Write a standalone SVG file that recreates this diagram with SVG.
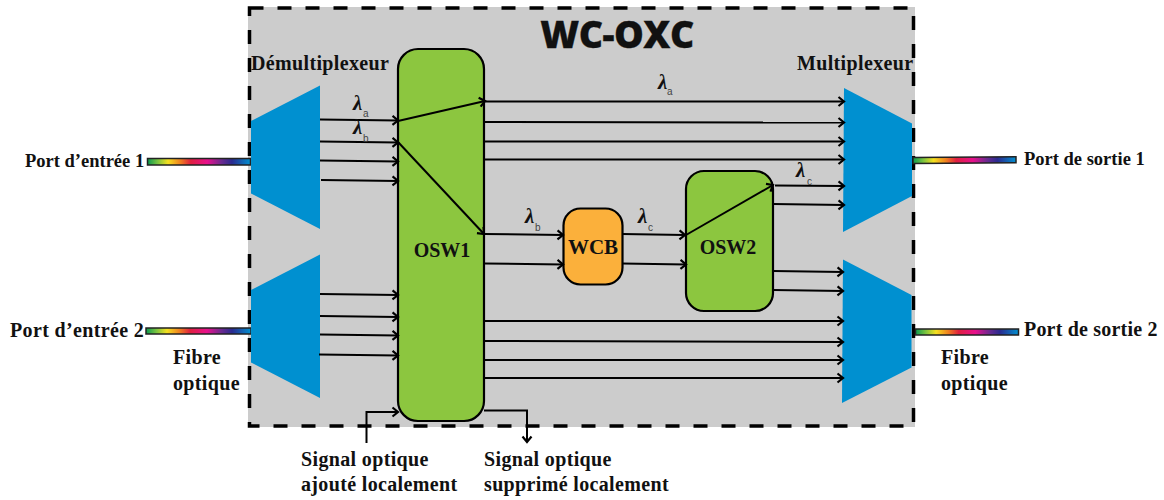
<svg xmlns="http://www.w3.org/2000/svg" width="1164" height="500" viewBox="0 0 1164 500">
<style>
text{font-family:"Liberation Serif","Times New Roman",serif;font-weight:700;fill:#111}
.l{font-size:20px;letter-spacing:.35px}
.p{font-size:18.500px}
.lam{font-size:21px;font-style:italic;font-family:"Liberation Serif",serif}
.sub{font-size:10px;font-weight:400;font-family:"Liberation Sans",sans-serif;fill:#444}
.w{fill:none;stroke:#000;stroke-width:2;marker-end:url(#a)}
.mux{fill:#0090d0}
.osw{fill:#8cc63f;stroke:#000;stroke-width:2.200}
.fib{stroke:#222;stroke-width:1.500}
</style>
<defs>
<marker id="a" markerUnits="userSpaceOnUse" markerWidth="9" markerHeight="12" refX="7" refY="6" orient="auto"><path d="M1.500 1.500L7 6L1.500 10.500" fill="none" stroke="#000" stroke-width="2.200"/></marker>
<linearGradient id="g"><stop offset="0" stop-color="#0a9a50"/><stop offset=".1" stop-color="#7cc440"/><stop offset=".2" stop-color="#f5e020"/><stop offset=".32" stop-color="#f08020"/><stop offset=".42" stop-color="#e02040"/><stop offset=".58" stop-color="#e8108c"/><stop offset=".72" stop-color="#6a2a90"/><stop offset=".82" stop-color="#2a2a90"/><stop offset="1" stop-color="#0090d0"/></linearGradient>
</defs>
<g id="oxc"><rect x="248" y="7" width="667" height="420" fill="#cccccc"/>
<rect x="249.500" y="8" width="664" height="418" fill="none" stroke="#000" stroke-width="3.500" stroke-dasharray="14 14"/>
<text x="617" y="47.500" text-anchor="middle" style="font-family:'Open Sans','Liberation Sans',sans-serif;font-size:37.500px;font-weight:800;letter-spacing:-.5px;stroke:#111;stroke-width:.3px">WC-OXC</text></g>
<g id="fibres">
<rect x="147.500" y="158.500" width="103" height="6.500" fill="url(#g)" class="fib"/>
<rect x="146" y="328" width="105" height="6" fill="url(#g)" class="fib"/>
<rect x="913" y="157.500" width="103" height="6" fill="url(#g)" class="fib" transform="rotate(-.4 913 160)"/>
<rect x="915.500" y="329" width="103" height="6" fill="url(#g)" class="fib"/>
</g>
<g id="demux1"><path class="mux" d="M251 121L320 85.500V229L251 193.500Z"/></g>
<g id="demux2"><path class="mux" d="M251 290L320 254.500V398L251 362.500Z"/></g>
<g id="mux1"><path class="mux" d="M844 88L912 123.500V196L843 232Z"/></g>
<g id="mux2"><path class="mux" d="M843 259.500L911.500 295V367.500L842 403Z"/></g>
<g id="osw1"><rect class="osw" x="398" y="49" width="86" height="372" rx="20"/><text x="442" y="257" text-anchor="middle" font-size="20">OSW1</text></g>
<g id="wcb"><rect x="563.500" y="208.500" width="59" height="76" rx="17" fill="#fbb03b" stroke="#000" stroke-width="2.200"/><text x="593" y="254" text-anchor="middle" font-size="21">WCB</text></g>
<g id="osw2"><rect class="osw" x="686" y="171" width="87" height="140" rx="18"/><text x="728" y="254" text-anchor="middle" font-size="20">OSW2</text></g>
<g id="connectors">
<path class="w" d="M320 119.500L398 120.500"/><path class="w" d="M320 141.500L398 142.500"/><path class="w" d="M320 160.500L398 161.500"/><path class="w" d="M321 180L398 181"/>
<path class="w" d="M320 294L398 295"/><path class="w" d="M320 316L398 317"/><path class="w" d="M320 334.500L398 335.500"/><path class="w" d="M319 354.500L398 355.500"/>
<path class="w" d="M398 121L485 101"/><path class="w" d="M398 142L484 234"/>
<path class="w" d="M485 101.500L844 101.500"/><path class="w" d="M485 122L844 122.500"/><path class="w" d="M485 141.500L844 141.500"/><path class="w" d="M485 159.500L844 159.500"/>
<path class="w" d="M484 234L563 235"/><path class="w" d="M485 263.500L563 264.500"/>
<path class="w" d="M622 234L685 235"/><path class="w" d="M622 263.500L686 264.500"/>
<path class="w" d="M686 235L773 185"/>
<path class="w" d="M775 185.500L844 186"/><path class="w" d="M773 204L844 205"/>
<path class="w" d="M773 271L843 272"/><path class="w" d="M773 290L843 291"/>
<path class="w" d="M484 321L843 321"/><path class="w" d="M484 341L843 342"/><path class="w" d="M484 360L843 360"/><path class="w" d="M484 378L843 378"/>
<path class="w" d="M366.500 443V412H398"/><path class="w" d="M484 410.500H527V442"/>
</g>
<g id="labels">
<text class="l" x="251" y="70">Démultiplexeur</text><text class="l" x="797" y="70">Multiplexeur</text>
<text class="p" x="25" y="167">Port d’entrée 1</text><text class="l" x="10" y="337">Port d’entrée 2</text>
<text class="p" x="1024" y="165">Port de sortie 1</text><text class="l" x="1024" y="336" style="letter-spacing:.2px">Port de sortie 2</text>
<text class="l" x="173" y="364">Fibre</text><text class="l" x="173" y="390">optique</text>
<text class="l" x="941" y="364">Fibre</text><text class="l" x="941" y="390">optique</text>
<text class="l" x="301" y="466">Signal optique</text><text class="l" x="301" y="491">ajouté localement</text>
<text class="l" x="484" y="466">Signal optique</text><text class="l" x="484" y="491">supprimé localement</text>
<text class="lam" x="353" y="110">λ</text><text class="sub" x="363" y="117">a</text>
<text class="lam" x="353" y="134">λ</text><text class="sub" x="363" y="142">b</text>
<text class="lam" x="658" y="89">λ</text><text class="sub" x="667" y="95">a</text>
<text class="lam" x="525" y="223">λ</text><text class="sub" x="535" y="231">b</text>
<text class="lam" x="638" y="223">λ</text><text class="sub" x="648" y="231">c</text>
<text class="lam" x="796" y="177">λ</text><text class="sub" x="807" y="185">c</text>
</g>
</svg>
